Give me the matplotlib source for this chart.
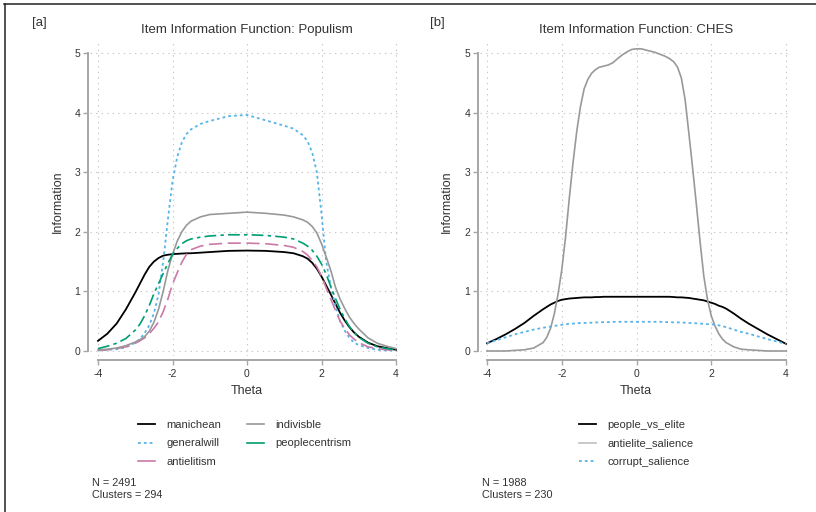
import matplotlib
matplotlib.use("Agg")
import matplotlib.pyplot as plt
from matplotlib.lines import Line2D

plt.rcParams['font.family'] = ['Liberation Sans', 'DejaVu Sans']
plt.rcParams['lines.scale_dashes'] = False

# ---------------- data: Populism panel ----------------
theta_a = [-4, -3.75, -3.5, -3.25, -3, -2.875, -2.75, -2.625, -2.5, -2.375, -2.25, -2.125,
           -2, -1.875, -1.75, -1.625, -1.5, -1.25, -1, -0.5, 0, 0.5, 1, 1.25, 1.5, 1.625,
           1.75, 1.875, 2, 2.125, 2.25, 2.375, 2.5, 2.625, 2.75, 2.875, 3, 3.25, 3.5, 3.75, 4]
manichean = [0.17, 0.29, 0.46, 0.70, 0.98, 1.13, 1.28, 1.41, 1.50, 1.56, 1.60, 1.615,
             1.625, 1.63, 1.635, 1.64, 1.64, 1.65, 1.66, 1.68, 1.685, 1.68, 1.66, 1.64, 1.59, 1.55,
             1.48, 1.38, 1.25, 1.10, 0.95, 0.79, 0.64, 0.51, 0.40, 0.31, 0.24, 0.14, 0.08, 0.05, 0.02]
generalwill = [0.01, 0.02, 0.03, 0.06, 0.14, 0.20, 0.30, 0.43, 0.63, 0.95, 1.50, 2.20,
               2.85, 3.25, 3.50, 3.64, 3.72, 3.81, 3.86, 3.94, 3.96, 3.87, 3.78, 3.73, 3.62, 3.52,
               3.33, 3.00, 2.30, 1.50, 1.08, 0.75, 0.50, 0.34, 0.22, 0.14, 0.10, 0.05, 0.02, 0.01, 0.01]
antielitism = [0.01, 0.02, 0.04, 0.07, 0.13, 0.17, 0.22, 0.29, 0.38, 0.49, 0.66, 0.87,
               1.12, 1.31, 1.49, 1.62, 1.70, 1.76, 1.79, 1.81, 1.81, 1.80, 1.77, 1.74, 1.67, 1.61,
               1.52, 1.41, 1.26, 1.06, 0.87, 0.68, 0.50, 0.38, 0.27, 0.20, 0.14, 0.07, 0.04, 0.02, 0.01]
indivisble = [0.02, 0.03, 0.05, 0.09, 0.15, 0.19, 0.24, 0.33, 0.48, 0.70, 1.00, 1.35,
              1.62, 1.84, 2.00, 2.11, 2.18, 2.25, 2.29, 2.31, 2.33, 2.31, 2.28, 2.25, 2.20, 2.16,
              2.09, 1.98, 1.80, 1.58, 1.35, 1.07, 0.87, 0.71, 0.57, 0.46, 0.37, 0.22, 0.13, 0.08, 0.04]
peoplecentrism = [0.04, 0.08, 0.13, 0.21, 0.35, 0.45, 0.59, 0.76, 0.96, 1.13, 1.30, 1.47,
                  1.62, 1.72, 1.80, 1.85, 1.88, 1.91, 1.93, 1.95, 1.95, 1.94, 1.91, 1.88, 1.81, 1.76,
                  1.69, 1.59, 1.46, 1.29, 1.08, 0.88, 0.70, 0.54, 0.41, 0.31, 0.23, 0.13, 0.07, 0.04, 0.02]

# ---------------- data: CHES panel ----------------
theta_b = [-4, -3.75, -3.5, -3.25, -3, -2.75, -2.5, -2.4, -2.3, -2.2, -2.1, -2, -1.9, -1.8,
           -1.7, -1.6, -1.5, -1.4, -1.3, -1.2, -1.1, -1, -0.875, -0.75, -0.625, -0.5, -0.375,
           -0.25, -0.125, 0, 0.125, 0.25, 0.375, 0.5, 0.625, 0.75, 0.875, 1, 1.1, 1.2, 1.3,
           1.4, 1.5, 1.6, 1.7, 1.8, 1.9, 2, 2.1, 2.2, 2.3, 2.4, 2.6, 2.8, 3, 3.25, 3.5, 3.75, 4]
people_vs_elite = [0.13, 0.20, 0.28, 0.37, 0.47, 0.59, 0.70, 0.74, 0.78, 0.81, 0.84, 0.86, 0.87, 0.88,
                   0.885, 0.89, 0.895, 0.90, 0.90, 0.90, 0.905, 0.905, 0.91, 0.91, 0.91, 0.91, 0.91,
                   0.91, 0.91, 0.91, 0.91, 0.91, 0.91, 0.91, 0.91, 0.91, 0.91, 0.905, 0.90, 0.90, 0.895,
                   0.89, 0.88, 0.87, 0.86, 0.85, 0.83, 0.81, 0.79, 0.76, 0.74, 0.71, 0.63, 0.54, 0.46,
                   0.37, 0.28, 0.20, 0.12]
antielite_salience = [0.00, 0.00, 0.00, 0.01, 0.02, 0.05, 0.14, 0.23, 0.38, 0.62, 0.95, 1.36, 1.90, 2.55,
                      3.15, 3.68, 4.10, 4.40, 4.56, 4.66, 4.72, 4.76, 4.78, 4.80, 4.84, 4.91, 4.97,
                      5.02, 5.06, 5.07, 5.07, 5.05, 5.03, 5.01, 4.98, 4.95, 4.91, 4.85, 4.76, 4.58, 4.22,
                      3.66, 3.08, 2.47, 1.84, 1.26, 0.86, 0.59, 0.42, 0.29, 0.20, 0.14, 0.07, 0.03, 0.02,
                      0.01, 0.00, 0.00, 0.00]
corrupt_salience = [0.13, 0.18, 0.23, 0.28, 0.32, 0.36, 0.39, 0.40, 0.41, 0.42, 0.43, 0.44, 0.45, 0.455,
                    0.46, 0.465, 0.47, 0.47, 0.475, 0.475, 0.48, 0.48, 0.485, 0.485, 0.49, 0.49, 0.49,
                    0.49, 0.49, 0.49, 0.49, 0.49, 0.49, 0.49, 0.49, 0.485, 0.485, 0.48, 0.48, 0.48, 0.475,
                    0.47, 0.47, 0.465, 0.46, 0.455, 0.45, 0.45, 0.44, 0.43, 0.415, 0.40, 0.36, 0.32, 0.29,
                    0.245, 0.20, 0.16, 0.12]

x_ticks = [-4, -2, 0, 2, 4]
y_ticks = [0, 1, 2, 3, 4, 5]

# ---------------- styles ----------------
W, H = 816, 512
BLACK = '#000000'
BLUE = '#56B4E9'
PINK = '#CC79A7'
GRAY = '#999999'
GREEN = '#009E73'
AXC = '#a6a6a6'
TXT = '#333333'

DOT = (0, (2.0, 2.2))
LONGDASH = (0, (9.5, 4.0))
TWODASH = (0, (8.5, 3.0, 2.5, 3.0))

fig = plt.figure(figsize=(W / 100, H / 100), dpi=100)


def fx(x):
    return x / W


def fy(y):
    return 1 - y / H


def make_axes(x0, x1):
    top, bottom = 42, 356
    return fig.add_axes([fx(x0), fy(bottom), fx(x1 - x0), (bottom - top) / H])


def style_axes(ax, xpx_m4, xpx_p4):
    ppu = (xpx_p4 - xpx_m4) / 8.0
    x0_px = ax.get_position().x0 * W
    x1_px = ax.get_position().x1 * W
    ax.set_xlim(-4 + (x0_px - xpx_m4) / ppu, 4 + (x1_px - xpx_p4) / ppu)
    ypu = (351 - 53) / 5.0
    ax.set_ylim(-(356 - 351) / ypu, 5 + (53 - 42) / ypu)
    for s in ['top', 'right']:
        ax.spines[s].set_visible(False)
    ax.spines['left'].set_bounds(0, 5)
    ax.spines['bottom'].set_bounds(-4, 4)
    ax.spines['left'].set_position(('outward', 1.5))
    ax.spines['bottom'].set_position(('outward', 3.0))
    for s in ['left', 'bottom']:
        ax.spines[s].set_color(AXC)
        ax.spines[s].set_linewidth(1.4)
    ax.set_xticks(x_ticks)
    ax.set_yticks(y_ticks)
    ax.set_xticklabels([str(v) for v in x_ticks])
    ax.set_yticklabels([str(v) for v in y_ticks])
    ax.tick_params(axis='both', colors=AXC, labelcolor=TXT, labelsize=7.5,
                   length=3.6, width=1.0)
    ax.tick_params(axis='y', pad=2)
    ax.tick_params(axis='x', pad=3)
    ax.grid(True, linestyle=(0, (1, 3)), color='#c8c8c8', linewidth=0.8)
    ax.set_axisbelow(True)


# ---------------- left panel ----------------
axA = make_axes(90, 400)
style_axes(axA, 98, 396)
axA.plot(theta_a, manichean, color=BLACK, lw=1.3, label='manichean')
axA.plot(theta_a, generalwill, color=BLUE, lw=1.3, linestyle=DOT, label='generalwill')
axA.plot(theta_a, antielitism, color=PINK, lw=1.2, linestyle=LONGDASH, label='antielitism')
axA.plot(theta_a, indivisble, color=GRAY, lw=1.2, label='indivisble')
axA.plot(theta_a, peoplecentrism, color=GREEN, lw=1.2, linestyle=TWODASH, label='peoplecentrism')

# ---------------- right panel ----------------
axB = make_axes(480, 790)
style_axes(axB, 487, 786)
axB.plot(theta_b, people_vs_elite, color=BLACK, lw=1.3, label='people_vs_elite')
axB.plot(theta_b, antielite_salience, color=GRAY, lw=1.2, label='antielite_salience')
axB.plot(theta_b, corrupt_salience, color=BLUE, lw=1.3, linestyle=DOT, label='corrupt_salience')

# ---------------- texts ----------------
fig.text(fx(247), fy(30), 'Item Information Function: Populism', ha='center', va='center',
         fontsize=9.5, color=TXT)
fig.text(fx(636), fy(30), 'Item Information Function: CHES', ha='center', va='center',
         fontsize=9.5, color=TXT)
fig.text(fx(39), fy(23), '[a]', ha='center', va='center', fontsize=9.5, color=TXT)
fig.text(fx(437), fy(23), '[b]', ha='center', va='center', fontsize=9.5, color=TXT)
for cx in (247, 636):
    fig.text(fx(cx), fy(391), 'Theta', ha='center', va='center', fontsize=9, color=TXT)
fig.text(fx(58), fy(202), 'Information', ha='center', va='center', rotation=90, fontsize=9, color=TXT)
fig.text(fx(447), fy(202), 'Information', ha='center', va='center', rotation=90, fontsize=9, color=TXT)

fig.text(fx(92), fy(483), 'N = 2491', ha='left', va='center', fontsize=7.8, color=TXT)
fig.text(fx(92), fy(495.5), 'Clusters = 294', ha='left', va='center', fontsize=7.8, color=TXT)
fig.text(fx(482), fy(483), 'N = 1988', ha='left', va='center', fontsize=7.8, color=TXT)
fig.text(fx(482), fy(495.5), 'Clusters = 230', ha='left', va='center', fontsize=7.8, color=TXT)

# ---------------- legends ----------------
leg_kw = dict(loc='upper left', frameon=False, fontsize=8, handlelength=1.55,
              handletextpad=1.0, labelspacing=0.76, borderpad=0, borderaxespad=0,
              labelcolor=TXT)
hA = [Line2D([], [], color=BLACK, lw=1.3),
      Line2D([], [], color=BLUE, lw=1.3, linestyle=DOT),
      Line2D([], [], color=PINK, lw=1.2),
      Line2D([], [], color=GRAY, lw=1.2),
      Line2D([], [], color=GREEN, lw=1.2)]
lA = ['manichean', 'generalwill', 'antielitism', 'indivisble', 'peoplecentrism']
fig.legend(hA, lA, ncol=2, columnspacing=2.3, bbox_to_anchor=(fx(138), fy(420)), **leg_kw)

hB = [Line2D([], [], color=BLACK, lw=1.3),
      Line2D([], [], color='#c0c0c0', lw=1.2),
      Line2D([], [], color=BLUE, lw=1.3, linestyle=DOT)]
lB = ['people_vs_elite', 'antielite_salience', 'corrupt_salience']
fig.legend(hB, lB, ncol=1, bbox_to_anchor=(fx(579), fy(420)), **leg_kw)

# ---------------- outer frame (top and left) ----------------
fig.add_artist(Line2D([fx(4), 1.0], [fy(3.5), fy(3.5)], color='#222222', lw=1.1,
                      transform=fig.transFigure))
fig.add_artist(Line2D([fx(4.5), fx(4.5)], [fy(3.5), 0.0], color='#222222', lw=1.1,
                      transform=fig.transFigure))

fig.savefig('out.png', dpi=100, facecolor='white')
